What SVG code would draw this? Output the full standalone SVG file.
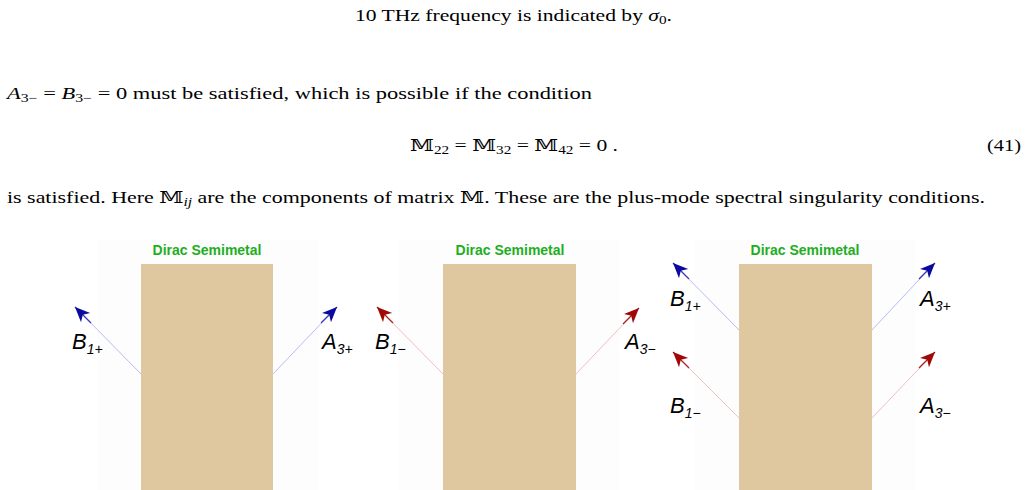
<svg xmlns="http://www.w3.org/2000/svg" width="1027" height="490" viewBox="0 0 1027 490">
<style>
.tx{font-family:"Liberation Serif","DejaVu Serif",serif;font-size:17px;fill:#000}
.it{font-style:italic}
.title{font-family:"Liberation Sans",Arial,sans-serif;font-weight:bold;font-size:14px;fill:#1fae1f;text-anchor:middle}
.lab{font-family:"Liberation Sans",Arial,sans-serif;font-style:italic;font-size:22px;fill:#000}
.sub{font-size:14px}
.slab{fill:#dfc79f}
.bg{fill:#fdfdfd}
.lb{stroke:#b8bcf2;stroke-width:1;fill:none}
.lr{stroke:#eec0c0;stroke-width:1;fill:none}
.db{stroke:#3a3ab8;stroke-width:1.2;fill:none}
.dr{stroke:#b02020;stroke-width:1.2;fill:none}
</style>
<defs>
<marker id="hb" markerUnits="userSpaceOnUse" markerWidth="16" markerHeight="14" refX="15" refY="6.5" orient="auto"><path d="M0,0 L15,6.5 L0,13 L4,6.5 z" fill="#0a0aa0"/></marker>
<marker id="hr" markerUnits="userSpaceOnUse" markerWidth="16" markerHeight="14" refX="15" refY="6.5" orient="auto"><path d="M0,0 L15,6.5 L0,13 L4,6.5 z" fill="#a00808"/></marker>
</defs>

<g id="text">
<text class="tx" x="355" y="21" textLength="317" lengthAdjust="spacingAndGlyphs">10 THz frequency is indicated by <tspan class="it">σ</tspan><tspan font-size="12" dy="3">0</tspan><tspan dy="-3">.</tspan></text>
<text class="tx" x="7" y="99" textLength="585" lengthAdjust="spacingAndGlyphs"><tspan class="it">A</tspan><tspan font-size="12" dy="3">3−</tspan><tspan dy="-3"> = </tspan><tspan class="it">B</tspan><tspan font-size="12" dy="3">3−</tspan><tspan dy="-3"> = 0 must be satisfied, which is possible if the condition</tspan></text>
<text class="tx" x="410" y="151" textLength="208" lengthAdjust="spacingAndGlyphs">𝕄<tspan font-size="12" dy="3">22</tspan><tspan dy="-3"> = 𝕄</tspan><tspan font-size="12" dy="3">32</tspan><tspan dy="-3"> = 𝕄</tspan><tspan font-size="12" dy="3">42</tspan><tspan dy="-3"> = 0 .</tspan></text>
<text class="tx" x="987" y="151" textLength="34" lengthAdjust="spacingAndGlyphs">(41)</text>
<text class="tx" x="7" y="203" textLength="978" lengthAdjust="spacingAndGlyphs">is satisfied. Here 𝕄<tspan class="it" font-size="12" dy="3">ij</tspan><tspan dy="-3"> are the components of matrix 𝕄. These are the plus-mode spectral singularity conditions.</tspan></text>
</g>

<g id="panel1">
<rect class="bg" x="97" y="240" width="222" height="250"/>
<rect class="slab" x="141" y="264" width="132" height="226"/>
<text class="title" x="207" y="255">Dirac Semimetal</text>
<text class="lab" x="72" y="349">B<tspan class="sub" dy="5">1+</tspan></text>
<text class="lab" x="322" y="349">A<tspan class="sub" dy="5">3+</tspan></text>
</g>
<g id="panel2">
<rect class="bg" x="398" y="240" width="221" height="250"/>
<rect class="slab" x="443" y="264" width="133" height="226"/>
<text class="title" x="510" y="255">Dirac Semimetal</text>
<text class="lab" x="375" y="349">B<tspan class="sub" dy="5">1−</tspan></text>
<text class="lab" x="625" y="349">A<tspan class="sub" dy="5">3−</tspan></text>
</g>
<g id="panel3">
<rect class="bg" x="695" y="240" width="220" height="250"/>
<rect class="slab" x="739" y="264" width="133" height="226"/>
<text class="title" x="805" y="255">Dirac Semimetal</text>
<text class="lab" x="670" y="306">B<tspan class="sub" dy="5">1+</tspan></text>
<text class="lab" x="920" y="306">A<tspan class="sub" dy="5">3+</tspan></text>
<text class="lab" x="670" y="413">B<tspan class="sub" dy="5">1−</tspan></text>
<text class="lab" x="920" y="413">A<tspan class="sub" dy="5">3−</tspan></text>
</g>

<g id="connectors">
<line class="lb" x1="141" y1="374" x2="80" y2="312"/>
<line class="db" x1="91" y1="323" x2="75" y2="307" marker-end="url(#hb)"/>
<line class="lb" x1="273" y1="374" x2="332" y2="312"/>
<line class="db" x1="321" y1="323" x2="337" y2="307" marker-end="url(#hb)"/>
<line class="lr" x1="443" y1="374" x2="382" y2="312"/>
<line class="dr" x1="393" y1="323" x2="377" y2="307" marker-end="url(#hr)"/>
<line class="lr" x1="576" y1="374" x2="634" y2="313"/>
<line class="dr" x1="623" y1="324" x2="639" y2="308" marker-end="url(#hr)"/>
<line class="lb" x1="739" y1="330" x2="678" y2="268"/>
<line class="db" x1="689" y1="279" x2="673" y2="263" marker-end="url(#hb)"/>
<line class="lb" x1="872" y1="330" x2="930" y2="268"/>
<line class="db" x1="919" y1="279" x2="935" y2="263" marker-end="url(#hb)"/>
<line class="lr" x1="739" y1="418" x2="678" y2="357"/>
<line class="dr" x1="689" y1="368" x2="673" y2="352" marker-end="url(#hr)"/>
<line class="lr" x1="872" y1="418" x2="930" y2="357"/>
<line class="dr" x1="919" y1="368" x2="935" y2="352" marker-end="url(#hr)"/>
</g>
</svg>
